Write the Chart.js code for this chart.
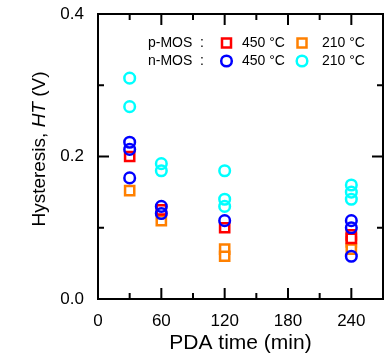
<!DOCTYPE html>
<html>
<head>
<meta charset="utf-8">
<script src="https://cdn.jsdelivr.net/npm/chart.js@4.4.1/dist/chart.umd.min.js"></script>
<style>
  html, body { margin: 0; padding: 0; background: #fff; }
  #wrap { width: 387px; height: 356px; }
</style>
</head>
<body>
<div id="wrap"><canvas id="htChart" width="387" height="356"></canvas></div>
<script>
// PDA time (min) vs hysteresis HT (V)
var xTicks = [0, 60, 120, 180, 240];
var yTicks = [0.0, 0.2, 0.4];

var p450X = [30, 60, 120, 240, 240];
var p450Y = [0.20, 0.125, 0.10, 0.09, 0.085];

var p210X = [30, 60, 120, 120, 240, 240];
var p210Y = [0.152, 0.11, 0.07, 0.06, 0.08, 0.07];

var n450X = [30, 30, 30, 60, 60, 120, 240, 240, 240];
var n450Y = [0.22, 0.21, 0.17, 0.13, 0.12, 0.11, 0.11, 0.10, 0.06];

var n210X = [30, 30, 60, 60, 120, 120, 120, 240, 240, 240];
var n210Y = [0.31, 0.27, 0.19, 0.18, 0.18, 0.14, 0.13, 0.16, 0.15, 0.14];

var FONT = "'Liberation Sans', Arial, sans-serif";

function pts(xs, ys) {
  var out = [];
  for (var i = 0; i < xs.length; i++) out.push({x: xs[i], y: ys[i]});
  return out;
}

function noPad(s) {
  s.paddingTop = 0; s.paddingBottom = 0; s.paddingLeft = 0; s.paddingRight = 0;
}

// frame, inward ticks, titles and legend
var decor = {
  id: 'decor',
  afterDraw: function(chart) {
    var ctx = chart.ctx, a = chart.chartArea;
    var xs = chart.scales.x, ys = chart.scales.y;
    ctx.save();
    ctx.strokeStyle = '#000';
    ctx.lineWidth = 2;
    ctx.strokeRect(a.left, a.top, a.right - a.left, a.bottom - a.top);

    ctx.beginPath();
    for (var v = 0; v <= 270; v += 30) {
      var px = xs.getPixelForValue(v);
      var len = (v % 60 === 0) ? 11 : 6;
      ctx.moveTo(px, a.bottom); ctx.lineTo(px, a.bottom - len);
      ctx.moveTo(px, a.top); ctx.lineTo(px, a.top + len);
    }
    for (var k = 1; k < 4; k++) {
      var py = ys.getPixelForValue(k * 0.1);
      var l2 = (k % 2 === 0) ? 11 : 6;
      ctx.moveTo(a.left, py); ctx.lineTo(a.left + l2, py);
      ctx.moveTo(a.right, py); ctx.lineTo(a.right - l2, py);
    }
    ctx.stroke();

    // x title
    ctx.fillStyle = '#000';
    ctx.font = '21px ' + FONT;
    ctx.textAlign = 'center';
    ctx.textBaseline = 'middle';
    ctx.fillText('PDA time (min)', (a.left + a.right) / 2, 343);

    // y title with italic HT
    ctx.save();
    ctx.translate(40, 149);
    ctx.rotate(-Math.PI / 2);
    var parts = [['Hysteresis, ', ''], ['HT', 'italic '], [' (V)', '']];
    var total = 0;
    parts.forEach(function(p) { ctx.font = p[1] + '19px ' + FONT; total += ctx.measureText(p[0]).width; });
    var cx = -total / 2;
    ctx.textAlign = 'left';
    parts.forEach(function(p) {
      ctx.font = p[1] + '19px ' + FONT;
      ctx.fillText(p[0], cx, 0);
      cx += ctx.measureText(p[0]).width;
    });
    ctx.restore();

    // legend
    ctx.font = '14px ' + FONT;
    ctx.textAlign = 'left';
    ctx.textBaseline = 'middle';
    ctx.fillText('p-MOS  :', 148, 43);
    ctx.fillText('n-MOS  :', 148, 61);
    ctx.fillText('450 \u00B0C', 242, 43);
    ctx.fillText('210 \u00B0C', 322, 43);
    ctx.fillText('450 \u00B0C', 242, 61);
    ctx.fillText('210 \u00B0C', 322, 61);
    ctx.lineWidth = 2.5;
    ctx.strokeStyle = '#ff0000';
    ctx.strokeRect(226.5 - 4.5, 43 - 4.5, 9, 9);
    ctx.strokeStyle = '#ff8000';
    ctx.strokeRect(302 - 4.5, 43 - 4.5, 9, 9);
    ctx.strokeStyle = '#0000ff';
    ctx.beginPath(); ctx.arc(226.5, 61, 5.3, 0, Math.PI * 2); ctx.stroke();
    ctx.strokeStyle = '#00ffff';
    ctx.beginPath(); ctx.arc(302, 61, 5.3, 0, Math.PI * 2); ctx.stroke();
    ctx.restore();
  }
};

var ctx = document.getElementById('htChart').getContext('2d');
var htChart = new Chart(ctx, {
  type: 'scatter',
  data: {
    datasets: [{
      label: 'p-MOS 210 °C',
      data: pts(p210X, p210Y),
      pointStyle: 'rect',
      radius: 6.5,
      borderColor: '#ff8000',
      backgroundColor: '#ffffff',
      borderWidth: 2.5,
      order: 4
    }, {
      label: 'p-MOS 450 °C',
      data: pts(p450X, p450Y),
      pointStyle: 'rect',
      radius: 6.5,
      borderColor: '#ff0000',
      backgroundColor: '#ffffff',
      borderWidth: 2.5,
      order: 3
    }, {
      label: 'n-MOS 210 °C',
      data: pts(n210X, n210Y),
      pointStyle: 'circle',
      radius: 5.3,
      borderColor: '#00ffff',
      backgroundColor: 'rgba(0,0,0,0)',
      borderWidth: 2.5,
      order: 2
    }, {
      label: 'n-MOS 450 °C',
      data: pts(n450X, n450Y),
      pointStyle: 'circle',
      radius: 5.3,
      borderColor: '#0000ff',
      backgroundColor: 'rgba(0,0,0,0)',
      borderWidth: 2.5,
      order: 1
    }]
  },
  options: {
    responsive: false,
    animation: false,
    events: [],
    layout: { autoPadding: false, padding: { top: 14, right: 4, left: 0, bottom: 0 } },
    plugins: { legend: { display: false }, tooltip: { enabled: false } },
    scales: {
      x: {
        type: 'linear',
        min: 0,
        max: 270,
        afterFit: function(s) { s.height = 57; noPad(s); },
        afterBuildTicks: function(s) { s.ticks = xTicks.map(function(v) { return {value: v}; }); },
        grid: { display: false, drawTicks: false },
        border: { display: false },
        ticks: { padding: 12, color: '#000', font: { family: FONT, size: 17 }, maxRotation: 0 }
      },
      y: {
        min: 0,
        max: 0.4,
        afterFit: function(s) { s.width = 98; noPad(s); },
        afterBuildTicks: function(s) { s.ticks = yTicks.map(function(v) { return {value: v}; }); },
        grid: { display: false, drawTicks: false },
        border: { display: false },
        ticks: {
          padding: 14, color: '#000', font: { family: FONT, size: 17 },
          callback: function(v) { return v.toFixed(1); }
        }
      }
    }
  },
  plugins: [decor]
});
</script>
</body>
</html>
